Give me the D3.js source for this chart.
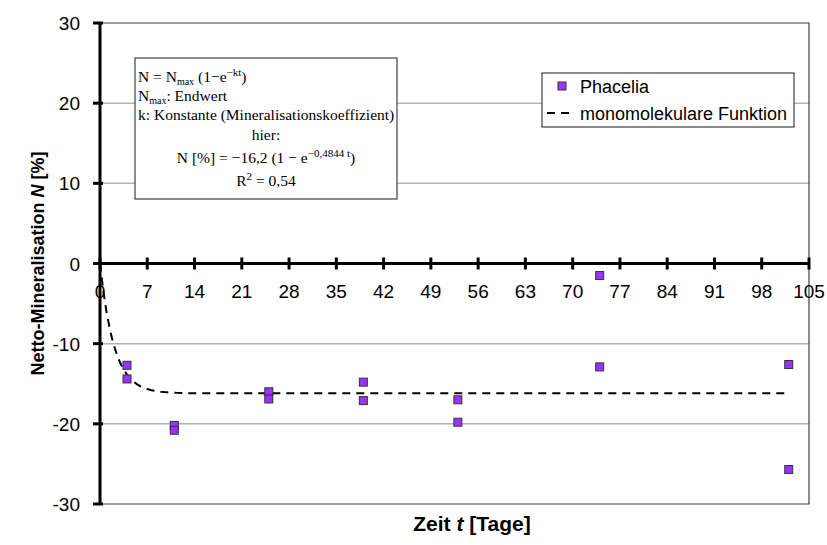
<!DOCTYPE html>
<html><head><meta charset="utf-8">
<script src="https://cdn.jsdelivr.net/npm/d3@7"></script>
<style>body{margin:0;background:#fff}svg{display:block}</style>
</head><body>
<svg id="c" width="827" height="545"></svg>
<script>
const days = [4, 4, 11, 11, 25, 25, 39, 39, 53, 53, 74, 74, 102, 102];
const phacelia = [-12.7, -14.4, -20.2, -20.8, -16.0, -16.9, -14.8, -17.1, -17.0, -19.8, -1.5, -12.9, -12.6, -25.7];
const xTicks = [0, 7, 14, 21, 28, 35, 42, 49, 56, 63, 70, 77, 84, 91, 98, 105];
const yTicks = [-30, -20, -10, 0, 10, 20, 30];
const gridValues = [-20, -10, 10, 20];
const fitNmax = -16.2, fitK = 0.4844, fitEnd = 102;
const legendLabels = ["Phacelia", "monomolekulare Funktion"];

const svg = d3.select("#c");
const L = 100, R = 809, T = 23, B = 504;
const x = d3.scaleLinear().domain([0, 105]).range([L, R]);
const y = d3.scaleLinear().domain([-30, 30]).range([B, T]);
const sans = "'Liberation Sans', Arial, sans-serif";
const serif = "'Liberation Serif', 'Times New Roman', serif";

// grid
svg.append("g").selectAll("line").data(gridValues).join("line")
  .attr("x1", L).attr("x2", R).attr("y1", d => y(d)).attr("y2", d => y(d))
  .attr("stroke", "#b4b4b4").attr("stroke-width", 1.5);
// plot border (top, right, bottom)
svg.append("path").attr("d", `M${L},${T}H${R}V${B}H${L}`)
  .attr("fill", "none").attr("stroke", "#404040").attr("stroke-width", 1.2);

// equation box
const bx = 135, by = 58, bw = 262, bh = 141;
svg.append("rect").attr("x", bx).attr("y", by).attr("width", bw).attr("height", bh)
  .attr("fill", "#fff").attr("stroke", "#404040").attr("stroke-width", 1.2);
const eq = svg.append("g").attr("font-family", serif).attr("font-size", 15.5).attr("fill", "#000");
function line(yy, parts, anchor, xx) {
  const t = eq.append("text").attr("x", xx).attr("y", yy).attr("text-anchor", anchor);
  parts.forEach(p => {
    const s = t.append("tspan").text(p.t);
    if (p.sub) s.attr("font-size", 10).attr("dy", 3);
    if (p.sup) s.attr("font-size", 11).attr("dy", -6);
    if (p.back) s.attr("dy", p.back);
  });
}
line(82, [{t:"N = N"},{t:"max",sub:1},{t:" (1\u2212e",back:-3},{t:"\u2212kt",sup:1},{t:")",back:6}], "start", 138);
line(101, [{t:"N"},{t:"max",sub:1},{t:": Endwert",back:-3}], "start", 138);
line(120, [{t:"k: Konstante (Mineralisationskoeffizient)"}], "start", 138);
line(140, [{t:"hier:"}], "middle", bx + bw/2);
line(163, [{t:"N [%] = \u221216,2 (1 \u2212 e"},{t:"\u22120,4844 t",sup:1},{t:")",back:6}], "middle", bx + bw/2);
line(186, [{t:"R"},{t:"2",sup:1},{t:" = 0,54",back:6}], "middle", bx + bw/2);

// legend
const lg = svg.append("g");
lg.append("rect").attr("x", 542).attr("y", 73).attr("width", 252).attr("height", 54)
  .attr("fill", "#fff").attr("stroke", "#404040").attr("stroke-width", 1.2);
lg.append("rect").attr("x", 558).attr("y", 82).attr("width", 8).attr("height", 8)
  .attr("fill", "#9933ff").attr("stroke", "#333").attr("stroke-width", 1);
lg.append("line").attr("x1", 547).attr("x2", 573).attr("y1", 113).attr("y2", 113)
  .attr("stroke", "#000").attr("stroke-width", 2).attr("stroke-dasharray", "8,6");
lg.selectAll("text").data(legendLabels).join("text")
  .attr("x", 580).attr("y", (d, i) => 93 + i * 27)
  .attr("font-family", sans).attr("font-size", 18).text(d => d);

// axes
const ya = svg.append("g");
ya.append("line").attr("x1", L).attr("x2", L).attr("y1", T).attr("y2", B)
  .attr("stroke", "#000").attr("stroke-width", 3);
ya.selectAll("line.t").data(yTicks).join("line").attr("class", "t")
  .attr("x1", L - 7).attr("x2", L + 3).attr("y1", d => y(d)).attr("y2", d => y(d))
  .attr("stroke", "#000").attr("stroke-width", 3);
ya.selectAll("text").data(yTicks).join("text")
  .attr("x", 80).attr("y", d => y(d) + 7).attr("text-anchor", "end")
  .attr("font-family", sans).attr("font-size", 19).text(d => d);

const xa = svg.append("g");
xa.append("line").attr("x1", L - 7).attr("x2", R).attr("y1", y(0)).attr("y2", y(0))
  .attr("stroke", "#000").attr("stroke-width", 3);
xa.selectAll("line.t").data(xTicks).join("line").attr("class", "t")
  .attr("x1", d => x(d)).attr("x2", d => x(d)).attr("y1", y(0) - 6).attr("y2", y(0) + 6)
  .attr("stroke", "#000").attr("stroke-width", 3);
xa.selectAll("text").data(xTicks).join("text")
  .attr("x", d => x(d)).attr("y", y(0) + 34).attr("text-anchor", "middle")
  .attr("font-family", sans).attr("font-size", 19).text(d => d);

// fitted curve
const tVals = d3.range(0, fitEnd + 0.01, 0.5);
svg.append("path").datum(tVals)
  .attr("d", d3.line().x(t => x(t)).y(t => y(fitNmax * (1 - Math.exp(-fitK * t)))))
  .attr("fill", "none").attr("stroke", "#000").attr("stroke-width", 2).attr("stroke-dasharray", "8,6");

// points
svg.append("g").selectAll("rect").data(days.map((d, i) => [d, phacelia[i]])).join("rect")
  .attr("x", d => x(d[0]) - 4).attr("y", d => y(d[1]) - 4).attr("width", 8).attr("height", 8)
  .attr("fill", "#9933ff").attr("stroke", "#333").attr("stroke-width", 1);

// axis titles
const xt = svg.append("text").attr("x", 472).attr("y", 531).attr("text-anchor", "middle")
  .attr("font-family", sans).attr("font-size", 21).attr("font-weight", "bold");
xt.append("tspan").text("Zeit ");
xt.append("tspan").attr("font-style", "italic").text("t");
xt.append("tspan").text(" [Tage]");
const yt = svg.append("text").attr("transform", `translate(44,${(T + B) / 2}) rotate(-90)`)
  .attr("text-anchor", "middle").attr("font-family", sans).attr("font-size", 18).attr("font-weight", "bold");
yt.append("tspan").text("Netto-Mineralisation ");
yt.append("tspan").attr("font-style", "italic").text("N");
yt.append("tspan").text(" [%]");
</script>
</body></html>
